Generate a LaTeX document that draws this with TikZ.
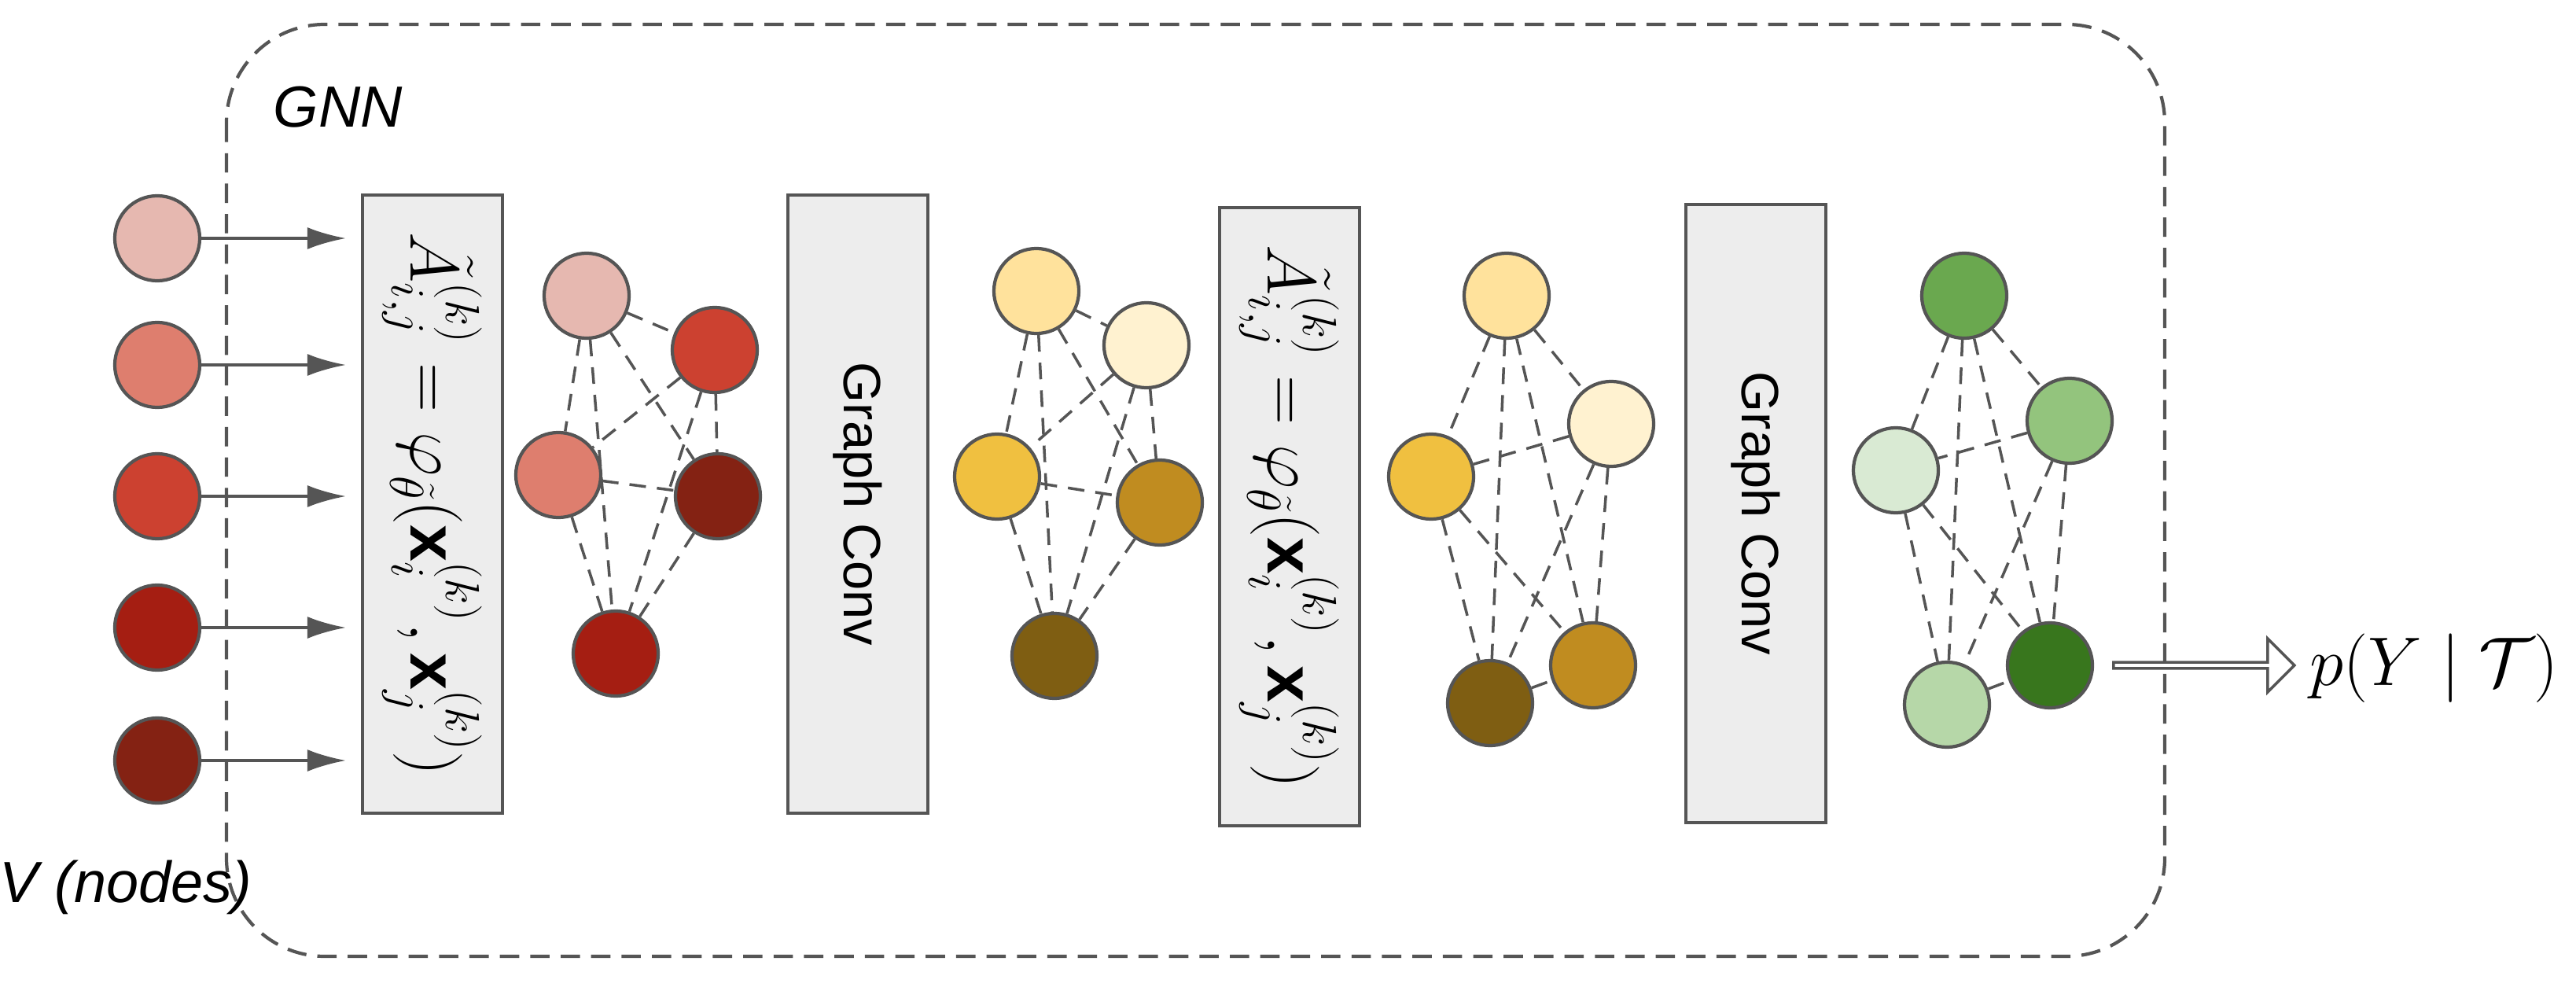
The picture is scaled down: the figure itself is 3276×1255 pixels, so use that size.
\documentclass[tikz,border=0pt]{standalone}
\usepackage{fontspec}
\usepackage{amsmath}
\setmainfont{Liberation Sans}
\usetikzlibrary{shapes.arrows,arrows.meta}
\definecolor{r1}{HTML}{E6B8B0}\definecolor{r2}{HTML}{DE7E6E}\definecolor{r3}{HTML}{CC4130}
\definecolor{r4}{HTML}{A51E12}\definecolor{r5}{HTML}{842213}
\definecolor{y1}{HTML}{FFE29C}\definecolor{y2}{HTML}{FFF2D0}\definecolor{y3}{HTML}{F0C040}
\definecolor{y4}{HTML}{C08C20}\definecolor{y5}{HTML}{7F5E12}
\definecolor{g1}{HTML}{6AA84F}\definecolor{g2}{HTML}{93C47D}\definecolor{g3}{HTML}{D9EAD3}
\definecolor{g4}{HTML}{B6D7A8}\definecolor{g5}{HTML}{38761D}
\definecolor{ln}{HTML}{555555}
\begin{document}
\begin{tikzpicture}[x=0.01cm,y=-0.01cm,
  nd/.style={circle,draw=ln,line width=1.2pt,minimum size=1.08cm,inner sep=0},
  ed/.style={draw=ln,line width=1pt,dash pattern=on 6pt off 4pt},
  box/.style={draw=ln,fill=black!7,line width=1.2pt,minimum width=1.78cm,inner sep=0},
  arr/.style={draw=ln,line width=1.1pt,-{Latex[length=14pt,width=8pt]}}]
\useasboundingbox (0,0) rectangle (3276,1255);
\draw[ln,line width=1.2pt,dash pattern=on 7pt off 4pt,rounded corners=1.25cm] (288,31) rectangle (2753,1216);
\node[font=\fontsize{21}{24}\selectfont\itshape] (gnn) at (430,136) {GNN};
\node[font=\fontsize{21}{24}\selectfont\itshape] (vn) at (160,1128) {V (nodes)};
% inputs
\foreach \y/\c [count=\i] in {303/r1,464/r2,631/r3,798/r4,967/r5}{
  \node[nd,fill=\c] (in\i) at (200,\y) {};
  \coordinate (t\i) at (440,\y);
  \draw[arr] (in\i) -- (t\i);}
% boxes
\node[box,minimum height=7.85cm] (b1) at (550,641) {};
\node[rotate=-90,font=\fontsize{24}{28}\selectfont] at (b1) {$\tilde{A}^{(k)}_{i,j}=\varphi_{\tilde{\theta}}(\mathbf{x}^{(k)}_i,\mathbf{x}^{(k)}_j)$};
\node[box,minimum height=7.85cm] (b2) at (1091,641) {};
\node[rotate=-90,font=\fontsize{19}{22}\selectfont] at (b2) {Graph Conv};
\node[box,minimum height=7.85cm] (b3) at (1640,657) {};
\node[rotate=-90,font=\fontsize{24}{28}\selectfont] at (b3) {$\tilde{A}^{(k)}_{i,j}=\varphi_{\tilde{\theta}}(\mathbf{x}^{(k)}_i,\mathbf{x}^{(k)}_j)$};
\node[box,minimum height=7.85cm] (b4) at (2233,653) {};
\node[rotate=-90,font=\fontsize{19}{22}\selectfont] at (b4) {Graph Conv};
% graph nodes
\node[nd,fill=r1] (a1) at (746,376) {};
\node[nd,fill=r3] (a2) at (909,445) {};
\node[nd,fill=r2] (a3) at (710,604) {};
\node[nd,fill=r5] (a4) at (913,631) {};
\node[nd,fill=r4] (a5) at (783,831) {};
\node[nd,fill=y1] (c1) at (1318,370) {};
\node[nd,fill=y2] (c2) at (1458,439) {};
\node[nd,fill=y3] (c3) at (1268,606) {};
\node[nd,fill=y4] (c4) at (1475,639) {};
\node[nd,fill=y5] (c5) at (1341,834) {};
\node[nd,fill=y1] (d1) at (1916,376) {};
\node[nd,fill=y2] (d2) at (2049,539) {};
\node[nd,fill=y3] (d3) at (1820,606) {};
\node[nd,fill=y5] (d4) at (1895,894) {};
\node[nd,fill=y4] (d5) at (2026,846) {};
\node[nd,fill=g1] (e1) at (2498,376) {};
\node[nd,fill=g2] (e2) at (2632,535) {};
\node[nd,fill=g3] (e3) at (2411,598) {};
\node[nd,fill=g4] (e4) at (2476,896) {};
\node[nd,fill=g5] (e5) at (2607,846) {};
\foreach \p in {a,c,d,e}{
  \foreach \u/\v in {1/2,1/3,1/4,1/5,2/3,2/4,2/5,3/4,3/5,4/5}
    \path[ed] (\p\u) -- (\p\v);}
% output arrow
\node[single arrow,draw=ln,fill=white,line width=1pt,minimum height=2.3cm,minimum width=0.68cm,single arrow head extend=0.14cm,inner sep=0,anchor=west] (oa) at (2686,846) {};
\node[font=\fontsize{24}{28}\selectfont,anchor=west] (py) at (2925,850) {$p(Y\mid\mathcal{T})$};
\end{tikzpicture}
\end{document}
